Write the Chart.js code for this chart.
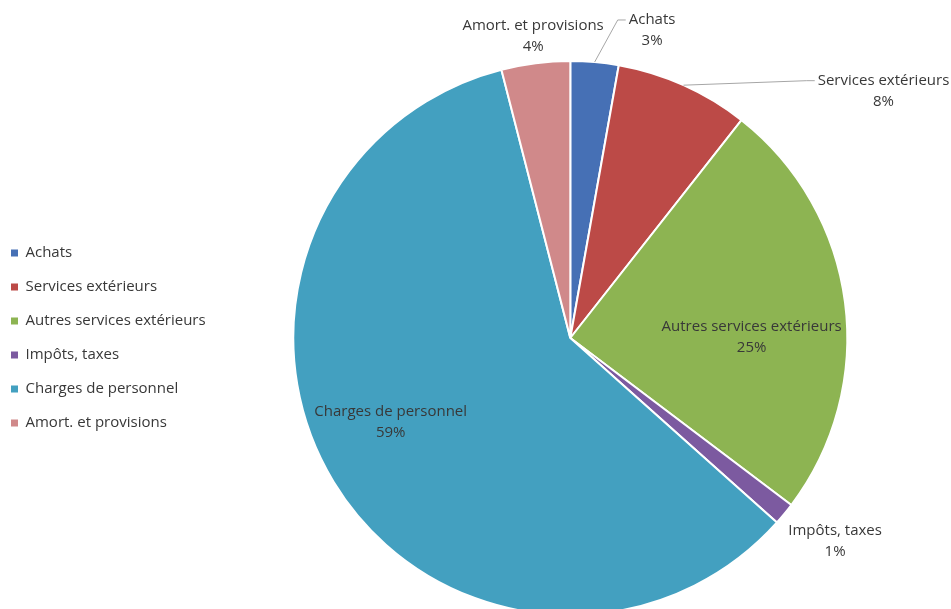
<!DOCTYPE html>
<html>
<head>
<meta charset="utf-8">
<script src="https://cdn.jsdelivr.net/npm/chart.js@4.4.1/dist/chart.umd.min.js"></script>
<style>
  html, body { margin: 0; padding: 0; background: #ffffff; overflow: hidden; }
  #wrap { position: absolute; left: -8px; top: 0; width: 959px; height: 609px; }
</style>
</head>
<body>
<div id="wrap"><canvas id="c"></canvas></div>
<script>
const categories = ['Achats', 'Services extérieurs', 'Autres services extérieurs', 'Impôts, taxes', 'Charges de personnel', 'Amort. et provisions'];
const shares = [2.8, 7.8, 24.7, 1.3, 59.4, 4.0];
const sliceColors = ['#4670B5', '#BC4A47', '#8DB452', '#7C5AA0', '#43A0C0', '#D0898A'];

// label placement: radial factor of outer radius at mid-angle, plus pixel nudge
const labelPlacement = [
  { r: 1.10, dx: 55, dy: -4, leader: true },
  { r: 1.00, dx: 200, dy: 6, leader: true },
  { r: 0.66, dx: 0, dy: 23, leader: false },
  { r: 1.20, dx: 8, dy: -8, leader: false },
  { r: 0.70, dx: -14, dy: -17, leader: false },
  { r: 1.10, dx: 1, dy: 1, leader: false }
];

const FONT = '"Open Sans", Lato, sans-serif';
const TEXT_COLOR = '#383838';

const sliceLabels = {
  id: 'sliceLabels',
  afterDatasetsDraw(chart) {
    const meta = chart.getDatasetMeta(0);
    const ctx = chart.ctx;
    const data = chart.data.datasets[0].data;
    const total = data.reduce((a, b) => a + b, 0);
    const lh = 21;
    ctx.save();
    ctx.font = '15px ' + FONT;
    ctx.fillStyle = TEXT_COLOR;
    ctx.textAlign = 'center';
    ctx.textBaseline = 'middle';
    meta.data.forEach((arc, i) => {
      const p = labelPlacement[i];
      const mid = (arc.startAngle + arc.endAngle) / 2;
      const R = arc.outerRadius;
      const lx = arc.x + Math.cos(mid) * R * p.r + p.dx;
      const ly = arc.y + Math.sin(mid) * R * p.r + p.dy;
      const line1 = chart.data.labels[i];
      const line2 = Math.round(data[i] / total * 100) + '%';
      ctx.fillText(line1, lx, ly - lh / 2);
      ctx.fillText(line2, lx, ly + lh / 2);
      if (p.leader) {
        const w = ctx.measureText(line1).width;
        const ex = lx - w / 2 - 3;
        const ey = ly - lh / 2;
        const sx = arc.x + Math.cos(mid) * R;
        const sy = arc.y + Math.sin(mid) * R;
        ctx.beginPath();
        ctx.strokeStyle = '#a6a6a6';
        ctx.lineWidth = 1;
        ctx.moveTo(sx, sy);
        ctx.lineTo(ex - 8, ey);
        ctx.lineTo(ex, ey);
        ctx.stroke();
      }
    });
    ctx.restore();
  }
};

new Chart(document.getElementById('c'), {
  type: 'pie',
  data: {
    labels: categories,
    datasets: [{
      data: shares,
      backgroundColor: sliceColors,
      borderColor: '#ffffff',
      borderWidth: 2,
      radius: 277
    }]
  },
  options: {
    responsive: true,
    maintainAspectRatio: false,
    animation: false,
    layout: { padding: { top: 67, bottom: 0, left: 0, right: 26 } },
    plugins: {
      tooltip: { enabled: false },
      legend: {
        position: 'left',
        align: 'center',
        labels: {
          boxWidth: 7,
          boxHeight: 7,
          padding: 19,
          color: TEXT_COLOR,
          font: { family: FONT, size: 15 },
          generateLabels(chart) {
            return Chart.overrides.pie.plugins.legend.labels.generateLabels(chart)
              .map(item => Object.assign(item, { lineWidth: 0 }));
          }
        }
      }
    }
  },
  plugins: [sliceLabels]
});
</script>
</body>
</html>
